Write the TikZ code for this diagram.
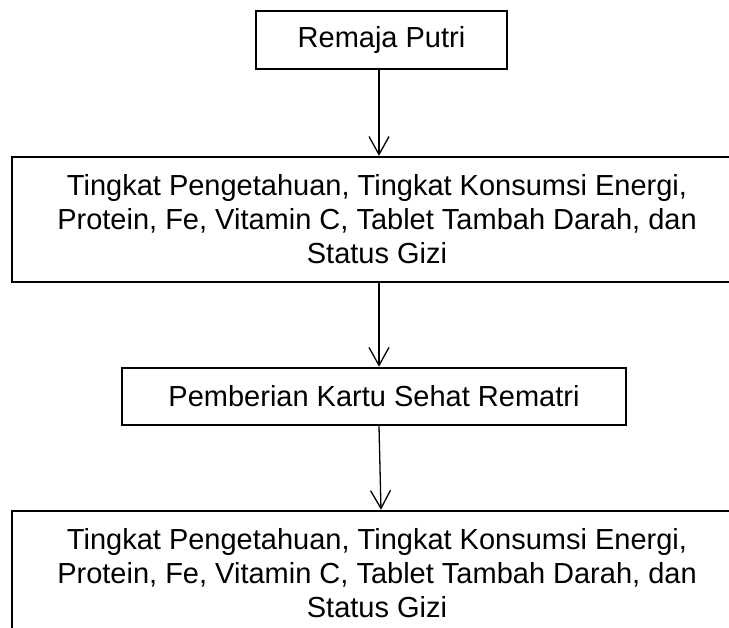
\documentclass[tikz,border=0pt]{standalone}
\usepackage{fontspec}
\setmainfont{Liberation Sans}
\usetikzlibrary{arrows.meta}

\begin{document}
\begin{tikzpicture}[x=1pt,y=-1pt,
    kotak/.style={draw,line width=1.8pt,inner sep=0pt,align=center,font=\fontsize{29}{34}\selectfont},
    panah/.style={line width=1.3pt,-{Straight Barb[length=18pt,width=20pt,line width=1.3pt]}}]
  \useasboundingbox (0,0) rectangle (729,628);
  \clip (0,0) rectangle (729,628);
  \node[kotak,minimum width=251pt,minimum height=58pt] (remaja) at (381.5,40) {Remaja Putri};
  \foreach \nama/\y in {sebelum/219.5, sesudah/573.4} {
    \node[kotak,minimum width=730pt,minimum height=125.5pt] (\nama) at (377,\y)
      {Tingkat Pengetahuan, Tingkat Konsumsi Energi,\\
       Protein, Fe, Vitamin C, Tablet Tambah Darah, dan\\
       Status Gizi};
  }
  \node[kotak,minimum width=504pt,minimum height=57.7pt] (kartu) at (374,396.5) {Pemberian Kartu Sehat Rematri};
  % alur
  \draw[panah] ([xshift=-2.5pt]remaja.south) -- ([xshift=2pt]sebelum.north);
  \draw[panah] ([xshift=2pt]sebelum.south) -- ([xshift=5pt]kartu.north);
  \draw[panah] ([xshift=5pt]kartu.south) -- ([xshift=4pt]sesudah.north);
\end{tikzpicture}
\end{document}
